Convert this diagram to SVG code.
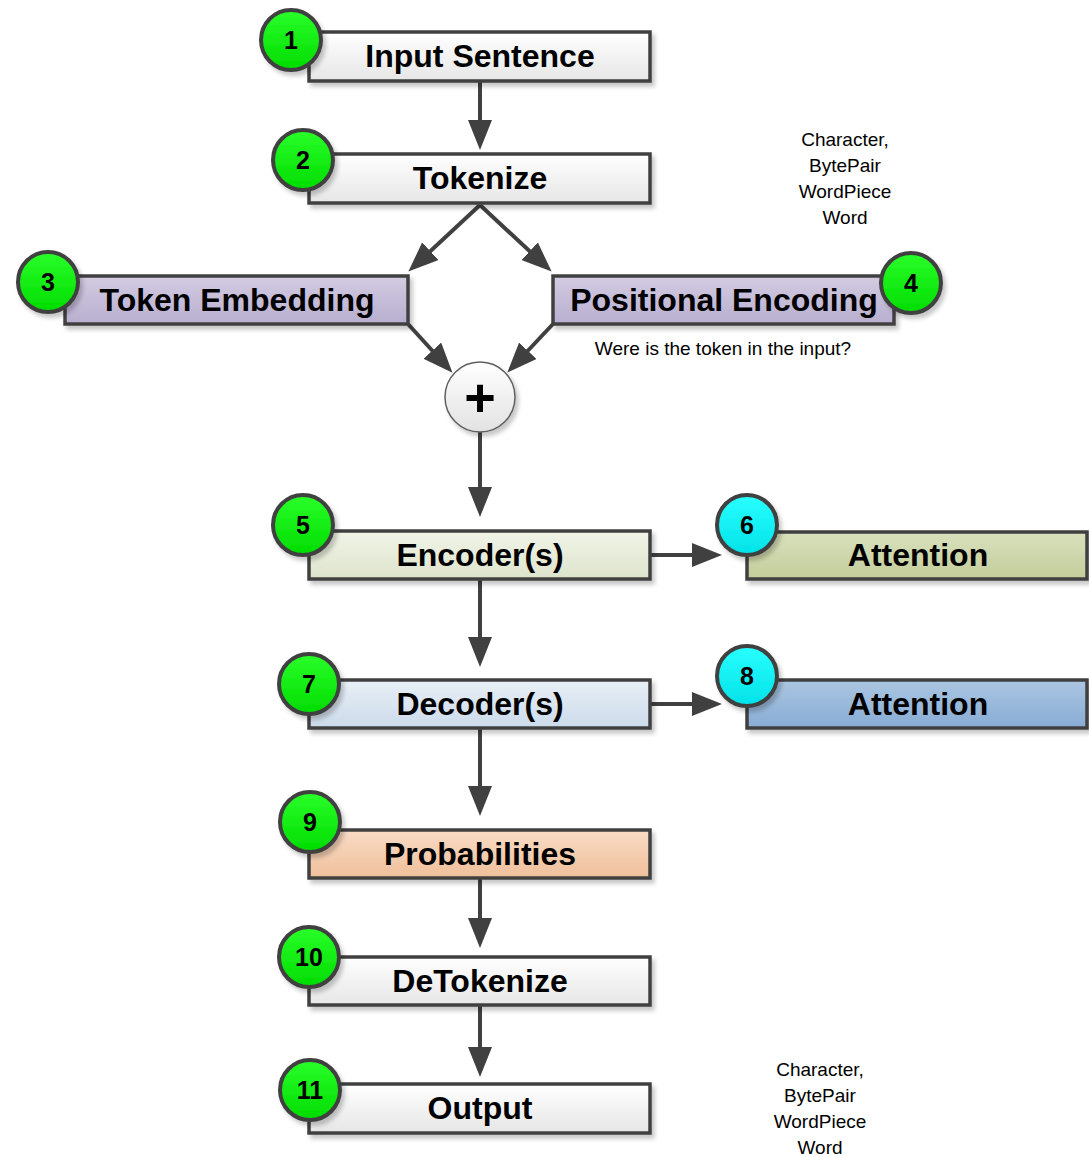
<svg xmlns="http://www.w3.org/2000/svg" width="1089" height="1156" viewBox="0 0 1089 1156">
  <defs>
    <filter id="shadow" x="-10%" y="-20%" width="130%" height="160%">
      <feDropShadow dx="3" dy="4" stdDeviation="2" flood-color="#000" flood-opacity="0.22"/>
    </filter>
    <linearGradient id="gWhite" x1="0" y1="0" x2="0" y2="1">
      <stop offset="0" stop-color="#ffffff"/><stop offset="1" stop-color="#e6e6e6"/>
    </linearGradient>
    <linearGradient id="gLav" x1="0" y1="0" x2="0" y2="1">
      <stop offset="0" stop-color="#d3cce2"/><stop offset="1" stop-color="#b8aecf"/>
    </linearGradient>
    <linearGradient id="gEnc" x1="0" y1="0" x2="0" y2="1">
      <stop offset="0" stop-color="#f1f4e8"/><stop offset="1" stop-color="#dde4cc"/>
    </linearGradient>
    <linearGradient id="gAtt1" x1="0" y1="0" x2="0" y2="1">
      <stop offset="0" stop-color="#d9e1bd"/><stop offset="1" stop-color="#c3cd9a"/>
    </linearGradient>
    <linearGradient id="gDec" x1="0" y1="0" x2="0" y2="1">
      <stop offset="0" stop-color="#e9f0f7"/><stop offset="1" stop-color="#cbdaea"/>
    </linearGradient>
    <linearGradient id="gAtt2" x1="0" y1="0" x2="0" y2="1">
      <stop offset="0" stop-color="#abc6e2"/><stop offset="1" stop-color="#88acd4"/>
    </linearGradient>
    <linearGradient id="gProb" x1="0" y1="0" x2="0" y2="1">
      <stop offset="0" stop-color="#f9dcc6"/><stop offset="1" stop-color="#efbf9a"/>
    </linearGradient>
    <linearGradient id="gGreen" x1="0" y1="0" x2="0" y2="1">
      <stop offset="0" stop-color="#2aff2a"/><stop offset="1" stop-color="#00dc00"/>
    </linearGradient>
    <linearGradient id="gCyan" x1="0" y1="0" x2="0" y2="1">
      <stop offset="0" stop-color="#2affff"/><stop offset="1" stop-color="#00e2e8"/>
    </linearGradient>
    <linearGradient id="gPlus" x1="0" y1="0" x2="0" y2="1">
      <stop offset="0" stop-color="#ffffff"/><stop offset="1" stop-color="#e2e2e2"/>
    </linearGradient>
    <marker id="arrow" markerUnits="userSpaceOnUse" markerWidth="32" markerHeight="24" refX="10" refY="12" orient="auto">
      <path d="M0,0 L30,12 L0,24 z" fill="#404040"/>
    </marker>
    <style>
      .box { stroke: #404040; stroke-width: 3.5; filter: url(#shadow); }
      .badge { stroke: #404040; stroke-width: 4; filter: url(#shadow); }
      .label { font-family: "Liberation Sans", Arial, sans-serif; font-weight: bold; font-size: 32px; fill: #000; text-anchor: middle; }
      .num { font-family: "Liberation Sans", Arial, sans-serif; font-weight: bold; font-size: 25px; fill: #000; text-anchor: middle; }
      .note { font-family: "Liberation Sans", Arial, sans-serif; font-size: 19px; fill: #000; text-anchor: middle; }
      .conn { stroke: #404040; stroke-width: 4; fill: none; marker-end: url(#arrow); }
    </style>
  </defs>

  <!-- connectors -->
  <g id="connectors">
    <line class="conn" x1="480" y1="81" x2="480" y2="130"/>
    <line class="conn" x1="480" y1="205" x2="423" y2="258"/>
    <line class="conn" x1="480" y1="205" x2="537" y2="258"/>
    <line class="conn" x1="408" y1="324" x2="439" y2="358"/>
    <line class="conn" x1="553" y1="324" x2="521" y2="358"/>
    <line class="conn" x1="480" y1="432" x2="480" y2="497"/>
    <line class="conn" x1="650" y1="555" x2="702" y2="555"/>
    <line class="conn" x1="480" y1="580" x2="480" y2="647"/>
    <line class="conn" x1="650" y1="704" x2="702" y2="704"/>
    <line class="conn" x1="480" y1="729" x2="480" y2="796"/>
    <line class="conn" x1="480" y1="878" x2="480" y2="928"/>
    <line class="conn" x1="480" y1="1005" x2="480" y2="1057"/>
  </g>

  <g id="input-sentence">
    <rect class="box" x="309" y="32" width="341" height="49" fill="url(#gWhite)"/>
    <text class="label" x="480" y="67">Input Sentence</text>
    <circle class="badge" cx="291" cy="40" r="30" fill="url(#gGreen)"/>
    <text class="num" x="291" y="49">1</text>
  </g>

  <g id="tokenize">
    <rect class="box" x="309" y="154" width="341" height="49" fill="url(#gWhite)"/>
    <text class="label" x="480" y="189">Tokenize</text>
    <circle class="badge" cx="303" cy="160" r="30" fill="url(#gGreen)"/>
    <text class="num" x="303" y="169">2</text>
  </g>

  <g id="token-notes">
    <text class="note" x="845" y="146">Character,</text>
    <text class="note" x="845" y="172">BytePair</text>
    <text class="note" x="845" y="198">WordPiece</text>
    <text class="note" x="845" y="224">Word</text>
  </g>

  <g id="token-embedding">
    <rect class="box" x="65" y="276" width="343" height="48" fill="url(#gLav)"/>
    <text class="label" x="237" y="311">Token Embedding</text>
    <circle class="badge" cx="48" cy="282" r="30" fill="url(#gGreen)"/>
    <text class="num" x="48" y="291">3</text>
  </g>

  <g id="positional-encoding">
    <rect class="box" x="553" y="276" width="341" height="48" fill="url(#gLav)"/>
    <text class="label" x="724" y="311">Positional Encoding</text>
    <circle class="badge" cx="911" cy="283" r="30" fill="url(#gGreen)"/>
    <text class="num" x="911" y="292">4</text>
    <text class="note" x="723" y="355">Were is the token in the input?</text>
  </g>

  <g id="sum">
    <circle cx="480" cy="397" r="35" fill="url(#gPlus)" stroke="#606060" stroke-width="1.5" filter="url(#shadow)"/>
    <text class="label" x="480" y="416" style="font-size:54px">+</text>
  </g>

  <g id="encoder">
    <rect class="box" x="309" y="531" width="341" height="48" fill="url(#gEnc)"/>
    <text class="label" x="480" y="566">Encoder(s)</text>
    <circle class="badge" cx="303" cy="525" r="30" fill="url(#gGreen)"/>
    <text class="num" x="303" y="534">5</text>
  </g>

  <g id="encoder-attention">
    <rect class="box" x="747" y="532" width="340" height="47" fill="url(#gAtt1)"/>
    <text class="label" x="918" y="566">Attention</text>
    <circle class="badge" cx="747" cy="525" r="30" fill="url(#gCyan)"/>
    <text class="num" x="747" y="534">6</text>
  </g>

  <g id="decoder">
    <rect class="box" x="309" y="680" width="341" height="48" fill="url(#gDec)"/>
    <text class="label" x="480" y="715">Decoder(s)</text>
    <circle class="badge" cx="309" cy="684" r="30" fill="url(#gGreen)"/>
    <text class="num" x="309" y="693">7</text>
  </g>

  <g id="decoder-attention">
    <rect class="box" x="747" y="680" width="340" height="48" fill="url(#gAtt2)"/>
    <text class="label" x="918" y="715">Attention</text>
    <circle class="badge" cx="747" cy="676" r="30" fill="url(#gCyan)"/>
    <text class="num" x="747" y="685">8</text>
  </g>

  <g id="probabilities">
    <rect class="box" x="309" y="830" width="341" height="48" fill="url(#gProb)"/>
    <text class="label" x="480" y="865">Probabilities</text>
    <circle class="badge" cx="310" cy="822" r="30" fill="url(#gGreen)"/>
    <text class="num" x="310" y="831">9</text>
  </g>

  <g id="detokenize">
    <rect class="box" x="309" y="957" width="341" height="48" fill="url(#gWhite)"/>
    <text class="label" x="480" y="992">DeTokenize</text>
    <circle class="badge" cx="309" cy="957" r="30" fill="url(#gGreen)"/>
    <text class="num" x="309" y="966">10</text>
  </g>

  <g id="output">
    <rect class="box" x="309" y="1084" width="341" height="49" fill="url(#gWhite)"/>
    <text class="label" x="480" y="1119">Output</text>
    <circle class="badge" cx="310" cy="1090" r="30" fill="url(#gGreen)"/>
    <text class="num" x="310" y="1099">11</text>
  </g>

  <g id="output-notes">
    <text class="note" x="820" y="1076">Character,</text>
    <text class="note" x="820" y="1102">BytePair</text>
    <text class="note" x="820" y="1128">WordPiece</text>
    <text class="note" x="820" y="1154">Word</text>
  </g>
</svg>
